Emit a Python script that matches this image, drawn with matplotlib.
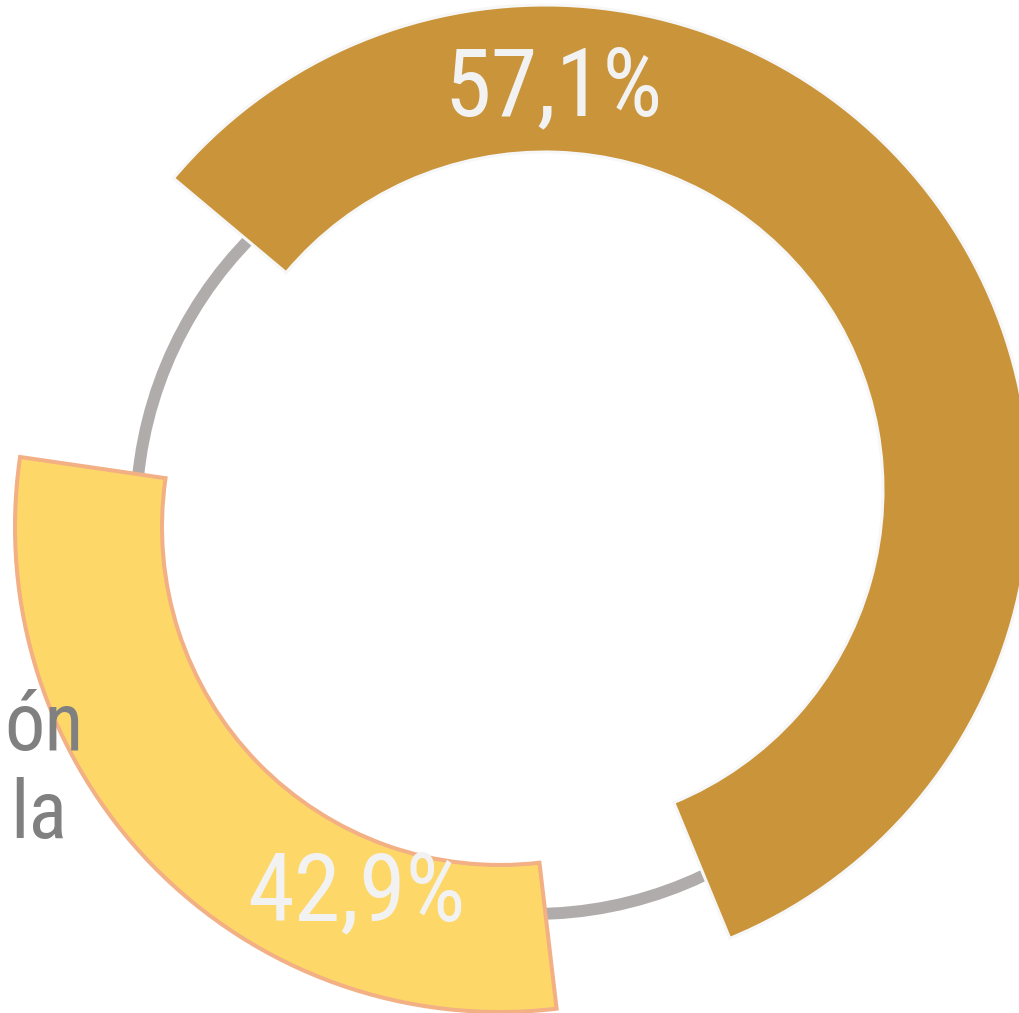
import matplotlib
matplotlib.use('Agg')
import matplotlib.pyplot as plt
from matplotlib.patches import Wedge, Circle
from matplotlib import font_manager as fm

# ── Data ────────────────────────────────────────────────────────────
shares = [57.1, 42.9]
share_labels = ['57,1%', '42,9%']
seg_colors = ['#C9943A', '#FDD868']
edge_colors = ['#F7F7F7', '#F2B084']
side_lines = ['ón', 'la']          # tail of a cut-off caption on the left

# drawn arc of each segment (degrees, counter-clockwise from 3 o'clock)
arc_from = [-67.6, 171.7]
arc_to = [140.0, 276.7]

# ── Geometry (pixels, y up) ─────────────────────────────────────────
W, H = 1019, 1013
centers = [(545, 523), (500, 486)]
R_OUT, R_IN = 485, 338
track_center, track_r = (533, 496), 397

# pick a narrow face if one is around
names = {f.name for f in fm.fontManager.ttflist}
narrow = None
for cand in ['Roboto Condensed', 'Open Sans Condensed', 'Liberation Sans Narrow']:
    if cand in names:
        narrow = dict(family=cand)
        break
if narrow is None:
    narrow = dict(family='DejaVu Sans', stretch='condensed')

fig = plt.figure(figsize=(W / 100, H / 100), dpi=100)
ax = fig.add_axes([0, 0, 1, 1])
ax.set_xlim(0, W)
ax.set_ylim(0, H)
ax.axis('off')

# thin grey track behind the segments
ax.add_patch(Circle(track_center, track_r, fill=False, edgecolor='#B0ACAB',
                    linewidth=8.6, zorder=1))

lw = [2.2, 2.9]
for i in range(len(shares)):
    ax.add_patch(Wedge(centers[i], R_OUT, arc_from[i], arc_to[i],
                       width=R_OUT - R_IN, facecolor=seg_colors[i],
                       edgecolor=edge_colors[i], linewidth=lw[i], zorder=2 + i))

# percentage labels
label_pos = [(554, 924), (356, 119)]
for (x, y), txt in zip(label_pos, share_labels):
    ax.text(x, y, txt, ha='center', va='center', fontsize=68,
            color='#F2F2F2', zorder=5, **narrow)

# cut caption on the left edge
ax.text(4, 263, side_lines[0], ha='left', va='baseline', fontsize=58,
        color='#808080', zorder=6, **narrow)
ax.text(10, 175, side_lines[1], ha='left', va='baseline', fontsize=58,
        color='#808080', zorder=6, **narrow)

fig.savefig('out.png', dpi=100)
